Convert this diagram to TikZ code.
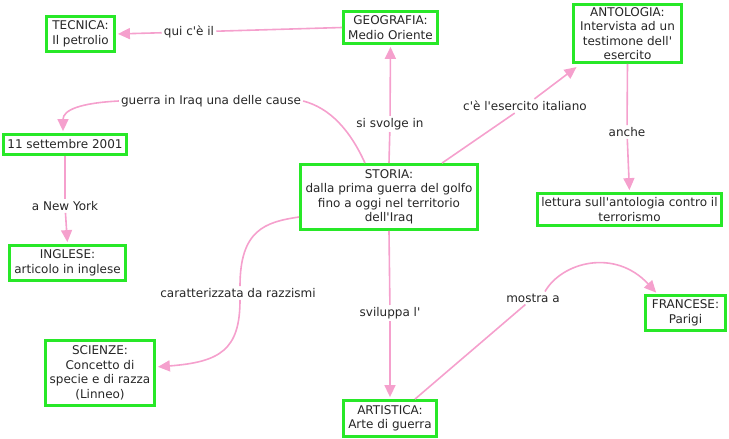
\documentclass[tikz,border=0pt]{standalone}
\usepackage{fontspec}
\setmainfont{DejaVu Sans}[Ligatures=TeXOff]
\usetikzlibrary{arrows.meta}
\definecolor{pinkline}{RGB}{245,160,205}
\definecolor{boxgreen}{RGB}{40,232,40}
\begin{document}
\begin{tikzpicture}[x=1pt,y=-1pt,
  concept/.style={draw=boxgreen, line width=2.8pt, align=center, inner sep=0pt, font=\fontsize{12}{14.5}\selectfont, text=black!85},
  lbl/.style={font=\fontsize{12}{14.5}\selectfont, inner sep=2pt, text=black!85},
  link/.style={draw=pinkline, line width=1.6pt},
  arr/.style={link, -{Triangle[length=12pt,width=11pt]}, shorten >=2pt}
]
\useasboundingbox (0,0) rectangle (729,439);
% concepts
\node[concept, minimum width=68pt, minimum height=35pt] (tec) at (80.5,34) {TECNICA:\\Il petrolio};
\node[concept, minimum width=94pt, minimum height=32pt] (geo) at (390.5,27.5) {GEOGRAFIA:\\Medio Oriente};
\node[concept, minimum width=108pt, minimum height=58pt] (ant) at (627.5,33.5) {ANTOLOGIA:\\Intervista ad un\\testimone dell'\\esercito};
\node[concept, minimum width=184pt, minimum height=32pt] (let) at (629.5,209.5) {lettura sull'antologia contro il\\terrorismo};
\node[concept, minimum width=123pt, minimum height=20pt] (set) at (65,144.5) {11 settembre 2001};
\node[concept, minimum width=116pt, minimum height=35pt] (ing) at (67.5,263) {INGLESE:\\articolo in inglese};
\node[concept, minimum width=109pt, minimum height=65pt] (sci) at (100,373) {SCIENZE:\\Concetto di\\specie e di razza\\(Linneo)};
\node[concept, minimum width=177pt, minimum height=65pt] (sto) at (389,197) {STORIA:\\dalla prima guerra del golfo\\fino a oggi nel territorio\\dell'Iraq};
\node[concept, minimum width=93pt, minimum height=36pt] (art) at (390,418.5) {ARTISTICA:\\Arte di guerra};
\node[concept, minimum width=80pt, minimum height=35pt] (fra) at (685.5,313) {FRANCESE:\\Parigi};
% labels
\node[lbl] (lqui) at (189,32) {qui c'è il};
\node[lbl] (lgue) at (211,101) {guerra in Iraq una delle cause};
\node[lbl] (lsvo) at (390,124) {si svolge in};
\node[lbl] (lese) at (525,106) {c'è l'esercito italiano};
\node[lbl] (lanc) at (627,132) {anche};
\node[lbl] (lny) at (65,206) {a New York};
\node[lbl] (lcar) at (238,293) {caratterizzata da razzismi};
\node[lbl] (lsvi) at (390,313) {sviluppa l'};
\node[lbl] (lmos) at (533,298) {mostra a};
% connectors
\draw[link] (geo.west) -- (lqui);
\draw[arr] (lqui) -- (tec.east);
\draw[link] ([xshift=-24pt]sto.north) .. controls (350,130) and (330,108) .. (lgue.east);
\draw[arr] (lgue.west) .. controls (80,103) and (63,110) .. ([xshift=-2pt]set.north);
\draw[link] (sto.north) -- (lsvo);
\draw[arr] (lsvo) -- (geo.south);
\draw[link] ([xshift=53pt]sto.north) -- (lese);
\draw[arr] (lese) -- ([xshift=6pt,yshift=-2pt]ant.south west);
\draw[link] (ant.south) -- (lanc);
\draw[arr] (lanc) -- (let.north);
\draw[link] (set.south) -- (lny);
\draw[arr] (lny) -- (ing.north);
\draw[link] ([yshift=-20pt]sto.west) .. controls (265,222) and (240,230) .. ([xshift=2pt]lcar.north);
\draw[arr] ([xshift=2pt]lcar.south) .. controls (240,350) and (220,362) .. ([yshift=6pt]sci.east);
\draw[link] (sto.south) -- (lsvi);
\draw[arr] (lsvi) -- (art.north);
\draw[link] ([xshift=25pt]art.north) -- (lmos);
\draw[arr] ([xshift=12pt]lmos.north) .. controls (562,262) and (615,248) .. ([xshift=-28pt]fra.north);
\end{tikzpicture}
\end{document}
